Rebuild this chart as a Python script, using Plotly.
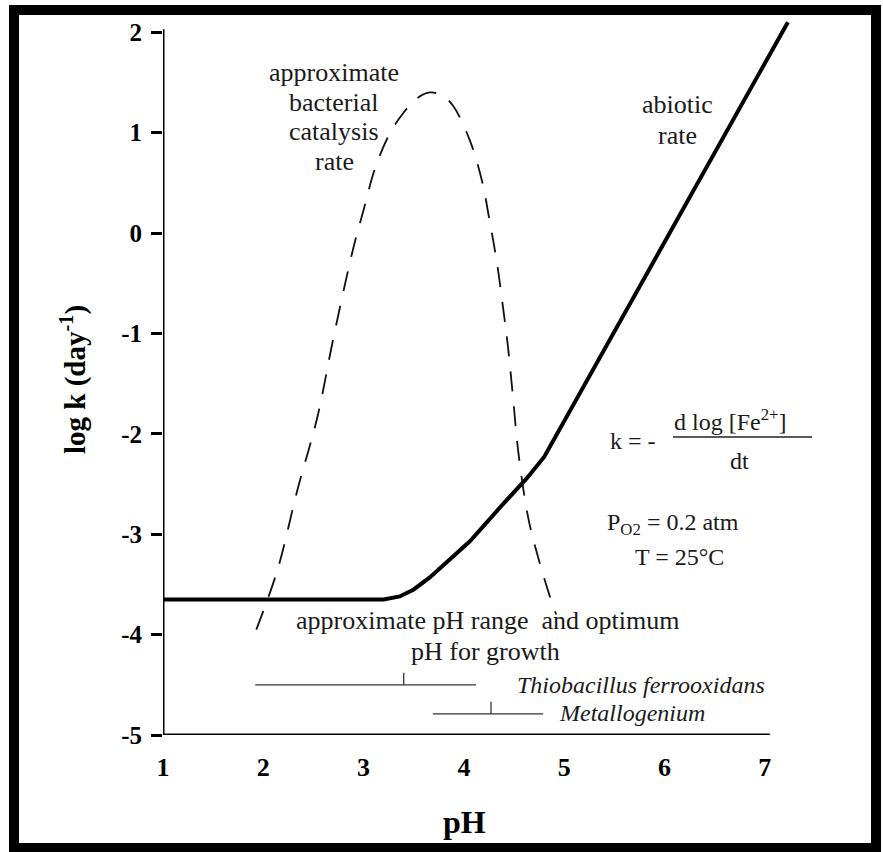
import plotly.graph_objects as go

# ---------------- data ----------------
abiotic_ph = [1.0, 3.2, 3.36, 3.5, 3.66, 4.06, 4.39, 4.63, 4.8, 7.23]
abiotic_logk = [-3.65, -3.65, -3.62, -3.55, -3.43, -3.07, -2.7, -2.44, -2.23, 2.1]

bacterial_ph = [1.93, 2.14, 2.34, 2.54, 2.7, 2.9, 3.0, 3.11, 3.26, 3.4, 3.53, 3.66,
                3.78, 3.89, 4.06, 4.18, 4.26, 4.33, 4.39, 4.44, 4.49, 4.54, 4.64,
                4.74, 4.87, 4.92]
bacterial_logk = [-3.95, -3.36, -2.56, -1.83, -1.04, -0.14, 0.23, 0.63, 0.99, 1.2,
                  1.34, 1.4, 1.37, 1.27, 0.92, 0.52, 0.1, -0.3, -0.74, -1.14, -1.64,
                  -2.16, -2.83, -3.23, -3.66, -3.8]

thio_range = [1.92, 4.12]
thio_opt = 3.4
thio_level = -4.5
metallo_range = [3.69, 4.79]
metallo_opt = 4.27
metallo_level = -4.79

x_ticks = [1, 2, 3, 4, 5, 6, 7]
x_ticktext = ["1", "2", "3", "4", "5", "6", "7"]
y_ticks = [-5, -4, -3, -2, -1, 0, 1, 2]
y_ticktext = ["-5", "-4", "-3", "-2", "-1", "0", "1", "2"]

# ---------------- layout constants ----------------
W, H = 883, 852
ML, MR, MT, MB = 163, 88, 20, 117
PW = W - ML - MR
PH = H - MT - MB
XR = [1, 1 + PW / 100.3]
YR = [-5, -5 + PH / 100.4]


def px(x):
    return (x - ML) / PW


def py(y):
    return (MT + PH - y) / PH


SERIF = "Liberation Serif"

fig = go.Figure()

fig.add_trace(go.Scatter(x=abiotic_ph, y=abiotic_logk, mode="lines",
                         line=dict(color="black", width=4), cliponaxis=False,
                         showlegend=False, hoverinfo="skip"))
fig.add_trace(go.Scatter(x=bacterial_ph, y=bacterial_logk, mode="lines",
                         line=dict(color="#111", width=1.8, dash="20px,15px", shape="spline"),
                         cliponaxis=False, showlegend=False, hoverinfo="skip"))

tick_h = 0.12
for rng, opt, lvl in [(thio_range, thio_opt, thio_level),
                      (metallo_range, metallo_opt, metallo_level)]:
    fig.add_trace(go.Scatter(x=[rng[0], rng[1], None, opt, opt],
                             y=[lvl, lvl, None, lvl, lvl + tick_h],
                             mode="lines", line=dict(color="#333", width=1.3),
                             showlegend=False, hoverinfo="skip"))

shapes = [
    # axis lines
    dict(type="line", xref="x", yref="y", x0=1, x1=7.05, y0=-5, y1=-5,
         line=dict(color="black", width=3)),
    dict(type="line", xref="x", yref="y", x0=1, x1=1, y0=-5, y1=2.03,
         line=dict(color="black", width=3)),
    # outer frame
    dict(type="rect", xref="paper", yref="paper", x0=px(14), x1=px(876),
         y0=py(10), y1=py(848), line=dict(color="black", width=10)),
    # fraction bar
    dict(type="line", xref="paper", yref="paper", x0=px(673), x1=px(812),
         y0=py(437), y1=py(437), line=dict(color="#222", width=1.5)),
]

tf = dict(family=SERIF, size=26, color="#1a1a1a")
itf = dict(family=SERIF, size=24, color="#1a1a1a")
ff = dict(family=SERIF, size=24, color="#1a1a1a")


def ann(text, x, y, xanchor="center", font=tf):
    return dict(text=text, x=px(x), y=py(y), xref="paper", yref="paper",
                xanchor=xanchor, yanchor="middle", showarrow=False, font=font)


annotations = [
    ann("approximate", 334, 72),
    ann("bacterial", 334, 102),
    ann("catalysis", 334, 132),
    ann("rate", 334, 161),
    ann("abiotic", 677, 105),
    ann("rate", 677, 135),
    ann("approximate pH range\u00a0 and optimum", 487, 620),
    ann("pH for growth", 486, 651),
    ann("<i>Thiobacillus ferrooxidans</i>", 515, 685, "left", itf),
    ann("<i>Metallogenium</i>", 557, 713, "left", itf),
    ann("k = -", 608, 441, "left", ff),
    ann("d log [Fe<sup>2+</sup>]", 730, 420, "center", ff),
    ann("dt", 739, 461, "center", ff),
    ann("P<sub>O2</sub> = 0.2 atm", 605, 524, "left", ff),
    ann("T = 25\u00b0C", 633, 557, "left", ff),
    # axis titles
    dict(text="<b>pH</b>", x=px(464), y=py(822), xref="paper", yref="paper",
         showarrow=False, xanchor="center", yanchor="middle",
         font=dict(family=SERIF, size=32, color="black")),
    dict(text="<b>log k (day<sup>-1</sup>)</b>", x=px(73), y=py(380), xref="paper",
         yref="paper", showarrow=False, xanchor="center", yanchor="middle",
         textangle=-90, font=dict(family=SERIF, size=29, color="black")),
]

fig.update_layout(
    width=W, height=H,
    margin=dict(l=ML, r=MR, t=MT, b=MB),
    paper_bgcolor="white", plot_bgcolor="white",
    shapes=shapes, annotations=annotations,
    xaxis=dict(range=XR, showgrid=False, zeroline=False, showline=False,
               tickvals=x_ticks, ticktext=x_ticktext, ticks="",
               ticklabelstandoff=14,
               tickfont=dict(family=SERIF, size=26, color="black", weight="bold")),
    yaxis=dict(range=YR, showgrid=False, zeroline=False, showline=False,
               tickvals=y_ticks, ticktext=y_ticktext, ticks="outside",
               ticklen=11, tickwidth=2.5, tickcolor="black",
               ticklabelstandoff=4,
               tickfont=dict(family=SERIF, size=25, color="black", weight="bold")),
)

fig.write_html("out.html")
